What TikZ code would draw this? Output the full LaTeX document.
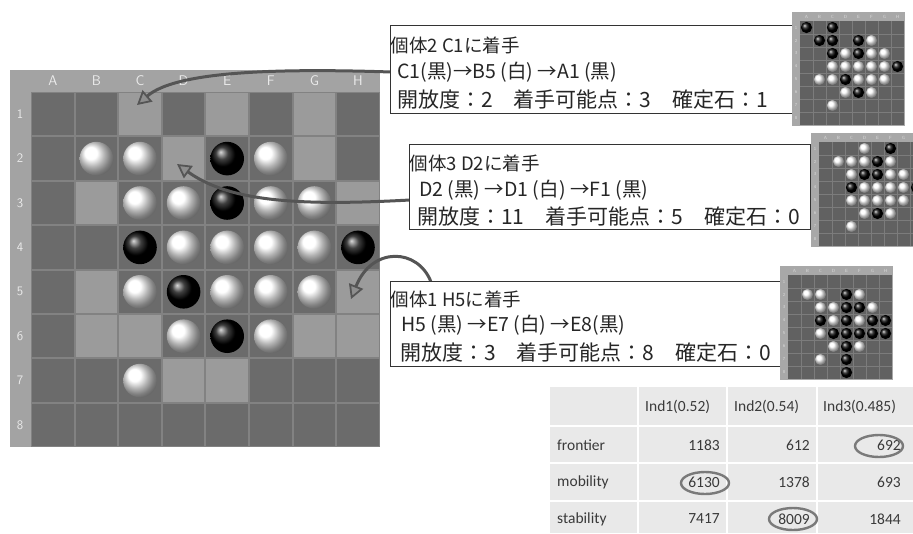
\documentclass[tikz,border=0pt]{standalone}
\usepackage{fontspec}
\setmainfont{Carlito}
\newfontfamily\jp{Noto Sans CJK JP}
\usetikzlibrary{arrows.meta,shapes.geometric}
\definecolor{bframe}{HTML}{A3A3A3}
\definecolor{bgrid}{HTML}{828282}
\definecolor{darkcell}{HTML}{6B6B6B}
\definecolor{lightcell}{HTML}{9B9B9B}
\definecolor{mframe}{HTML}{A8A8A8}
\definecolor{mcell}{HTML}{616161}
\definecolor{mgrid}{HTML}{7C7C7C}
\definecolor{arrowc}{HTML}{555555}
\definecolor{arrowfill}{HTML}{8E8E8E}
\definecolor{tcell}{HTML}{E9E9E9}
\definecolor{ttext}{HTML}{3A3A3A}
\definecolor{ovalc}{HTML}{7A7A7A}
\tikzset{
  x=1pt, y=-1pt,
  infobox/.style={draw=black!80, line width=0.9pt, fill=white, inner sep=0pt, anchor=north west},
  lineA/.style={anchor=west, inner sep=0pt, font=\jp\fontsize{18.5}{18.5}\selectfont, text=black!85},
  lineB/.style={anchor=west, inner sep=0pt, font=\jp\fontsize{19.5}{19.5}\selectfont, text=black!85},
  lineC/.style={anchor=west, inner sep=0pt, font=\jp\fontsize{21}{21}\selectfont, text=black!85},
  movearrow/.style={draw=arrowc, line width=3pt, -{Triangle[length=14pt,width=15pt,fill=arrowfill,line width=1.8pt]}},
  collabel/.style={text=white!92!black, font=\sffamily\fontsize{14}{14}\selectfont, inner sep=0pt},
  rowlabel/.style={text=white!92!black, font=\sffamily\fontsize{13}{13}\selectfont, inner sep=0pt},
  thead/.style={anchor=west, inner sep=0pt, text=ttext, font=\fontsize{15.5}{15.5}\selectfont},
  tnum/.style={anchor=east, inner sep=0pt, text=ttext, font=\fontsize{15.5}{15.5}\selectfont},
  oval/.style={draw=ovalc, line width=2.4pt, ellipse, minimum width=48pt, minimum height=22pt, inner sep=0pt},
  minilabel/.style={text=white!85!black, font=\sffamily\fontsize{4.5}{4.5}\selectfont, inner sep=0pt},
}
\newcommand{\miniboardAt}[4]{%
  \begin{scope}[shift={(#1,#2)}]
    \fill[mframe] (0,0) rectangle (113,114);
    \fill[mcell] (8,9) rectangle (112,113);
    \foreach \i in {1,...,7} {
      \draw[mgrid, line width=0.6pt] (8+13*\i,9) -- (8+13*\i,113);
      \draw[mgrid, line width=0.6pt] (8,9+13*\i) -- (112,9+13*\i);
    }
    \foreach \L [count=\k] in {#4}
      \node[minilabel] at (1.5+13*\k,4.5) {\L};
    \foreach \k in {1,...,8}
      \node[minilabel] at (4,2.5+13*\k) {\k};
    \foreach \c/\r/\col in {#3}
      \shade[ball color=\col] (1.5+13*\c, 2.5+13*\r) circle (5.6);
  \end{scope}}
\begin{document}
\begin{tikzpicture}
\path[use as bounding box, clip] (0,0) rectangle (913,533);
\fill[white] (0,0) rectangle (913,533);

% ---------- main board ----------
\fill[bframe] (10,70) rectangle (380,447);
\fill[bgrid] (31,92) rectangle (380,447);
\foreach \c in {1,...,8}
  \foreach \r in {1,...,8}
    \fill[darkcell] (31+43.6*\c-43.6+1, 92+44.4*\r-44.4+1) rectangle (31+43.6*\c-1, 92+44.4*\r-1);
\foreach \c/\r in {3/1,5/1,7/1,4/2,7/2,2/3,8/3,2/5,8/5,2/6,3/6,7/6,8/6,4/7,5/7}
  \fill[lightcell] (31+43.6*\c-43.6+1, 92+44.4*\r-44.4+1) rectangle (31+43.6*\c-1, 92+44.4*\r-1);
\foreach \L [count=\k] in {A,B,C,D,E,F,G,H}
  \node[collabel] (col\L) at (31+43.6*\k-21.8,81) {\L};
\foreach \k in {1,...,8}
  \node[rowlabel] (row\k) at (20,92+44.4*\k-22.2) {\k};
\foreach \c/\r/\col in {2/2/white,3/2/white,5/2/black,6/2/white,
  3/3/white,4/3/white,5/3/black,6/3/white,7/3/white,
  3/4/black,4/4/white,5/4/white,6/4/white,7/4/white,8/4/black,
  3/5/white,4/5/black,5/5/white,6/5/white,7/5/white,
  4/6/white,5/6/black,6/6/white,
  3/7/white}
  \shade[ball color=\col] (31+43.6*\c-21.8, 92+44.4*\r-22.2) circle (16.8);

% ---------- arrows ----------
\coordinate (a1s) at (391,72);
\coordinate (a1e) at (137,105);
\coordinate (a2s) at (410,200);
\coordinate (a2e) at (177,164);
\coordinate (a3s) at (431,282);
\coordinate (a3e) at (351,299);
\draw[movearrow] (a1s) .. controls (270,68) and (175,72) .. (a1e);
\draw[movearrow] (a2s) .. controls (300,206) and (230,202) .. (a2e);
\draw[movearrow] (a3s) .. controls (418,248) and (372,246) .. (a3e);

% ---------- info boxes ----------
\node[infobox, minimum width=402pt, minimum height=88pt] (box1) at (390,25) {};
\node[lineA] (b1l1) at (390.5,45) {個体2 C1に着手};
\node[lineB] (b1l2) at (397,72) {C1(黒)→B5 (白) →A1 (黒)};
\node[lineC] (b1l3) at (397,100) {開放度：2　着手可能点：3　確定石：1};

\node[infobox, minimum width=401pt, minimum height=85pt] (box2) at (409,144) {};
\node[lineA] (b2l1) at (409.5,163) {個体3 D2に着手};
\node[lineB] (b2l2) at (419,190) {D2 (黒) →D1 (白) →F1 (黒)};
\node[lineC] (b2l3) at (417,217) {開放度：11　着手可能点：5　確定石：0};

\node[infobox, minimum width=390pt, minimum height=85pt] (box3) at (390,281) {};
\node[lineA] (b3l1) at (390.5,299) {個体1 H5に着手};
\node[lineB] (b3l2) at (401,325) {H5 (黒) →E7 (白) →E8(黒)};
\node[lineC] (b3l3) at (400,353) {開放度：3　着手可能点：8　確定石：0};

% ---------- mini boards ----------
\miniboardAt{792}{12}{1/1/black,3/1/black,
  2/2/black,3/2/black,5/2/black,6/2/white,
  3/3/black,4/3/white,5/3/black,6/3/white,7/3/white,
  3/4/white,4/4/white,5/4/white,6/4/white,7/4/white,8/4/black,
  2/5/white,3/5/white,4/5/black,5/5/white,6/5/white,7/5/white,
  4/6/white,5/6/black,6/6/white,
  3/7/white}{A,B,C,D,E,F,G,H}
\miniboardAt{811}{133}{4/1/white,6/1/black,
  2/2/white,3/2/white,4/2/white,5/2/black,6/2/white,
  3/3/white,4/3/black,5/3/black,6/3/white,7/3/white,
  3/4/black,4/4/white,5/4/white,6/4/white,7/4/white,8/4/black,
  3/5/white,4/5/white,5/5/white,6/5/white,7/5/white,
  4/6/white,5/6/black,6/6/white,
  3/7/white}{A,B,C,D,E,F,G}
\miniboardAt{780}{266}{2/2/white,3/2/white,5/2/black,6/2/white,
  3/3/white,4/3/white,5/3/black,6/3/black,7/3/white,
  3/4/black,4/4/white,5/4/black,6/4/white,7/4/black,8/4/black,
  3/5/white,4/5/black,5/5/black,6/5/black,7/5/black,8/5/black,
  4/6/white,5/6/black,6/6/white,
  3/7/white,5/7/black,
  5/8/black}{A,B,C,D,E,F,G,H}

% ---------- table ----------
\fill[tcell] (550,387) rectangle (913,533);
\foreach \xx in {638,727,817}
  \draw[white, line width=2pt] (\xx,387) -- (\xx,533);
\foreach \yy in {426,463,501}
  \draw[white, line width=2pt] (550,\yy) -- (913,\yy);
\node[thead] (h1) at (645,407) {Ind1(0.52)};
\node[thead] (h2) at (734,407) {Ind2(0.54)};
\node[thead] (h3) at (823,407) {Ind3(0.485)};
\node[thead] (rf) at (557,445) {frontier};
\node[thead] (rm) at (557,482) {mobility};
\node[thead] (rs) at (557,519) {stability};
\node[tnum] (f1) at (720,445) {1183};
\node[tnum] (f2) at (810,445) {612};
\node[tnum] (f3) at (901,445) {692};
\node[tnum] (m1) at (720,482) {6130};
\node[tnum] (m2) at (810,482) {1378};
\node[tnum] (m3) at (901,482) {693};
\node[tnum] (s1) at (720,519) {7417};
\node[tnum] (s2) at (810,519) {8009};
\node[tnum] (s3) at (901,519) {1844};
\node[oval] (o1) at (879,446) {};
\node[oval] (o2) at (705,483) {};
\node[oval] (o3) at (793,519) {};
\end{tikzpicture}
\end{document}
